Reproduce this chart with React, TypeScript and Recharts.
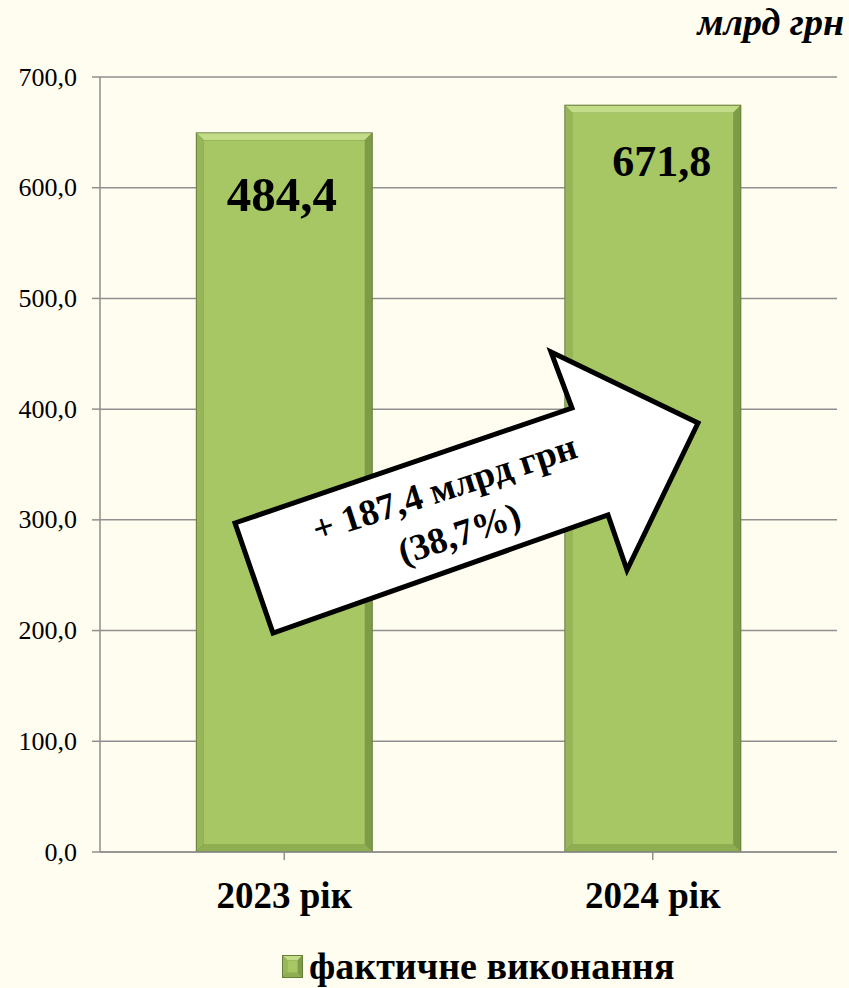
import React from 'react';
import { BarChart, Bar, XAxis, YAxis, CartesianGrid, Legend, LabelList } from 'recharts';

const categories = ['2023 рік', '2024 рік'];
const barValues = [650, 675];
const valueLabels = ['484,4', '671,8'];
const yTicks = [0, 100, 200, 300, 400, 500, 600, 700];
const seriesName = 'фактичне виконання';
const unitLabel = 'млрд грн';
const arrowLines = ['+ 187,4 млрд грн', '(38,7%)'];

const data = categories.map((c, i) => ({ category: c, value: barValues[i], label: valueLabels[i] }));

const BG = '#FFFCF0';
const FONT = 'Liberation Serif';
const labelSizes = [49, 44];
const labelDx = [-2.5, 9];
const labelDy = [79, 71];

const fmt = (v: number) => v.toFixed(1).replace('.', ',');

function BevelRect(props: any) {
  const { x, y, width, height } = props;
  if (!width || !height) return null;
  const b = Math.min(8, width / 4, height / 4);
  return (
    <g>
      <rect x={x} y={y} width={width} height={height} fill="#667F3A" />
      <polygon points={`${x + 1},${y + 1} ${x + width - 1},${y + 1} ${x + width - b},${y + b} ${x + b},${y + b}`} fill="#C2DC88" />
      <polygon points={`${x + 1},${y + 1} ${x + b},${y + b} ${x + b},${y + height - b} ${x + 1},${y + height - 1}`} fill="#97B65A" />
      <polygon points={`${x + width - 1},${y + 1} ${x + width - 1},${y + height - 1} ${x + width - b},${y + height - b} ${x + width - b},${y + b}`} fill="#7E9B47" />
      <polygon points={`${x + 1},${y + height - 1} ${x + b},${y + height - b} ${x + width - b},${y + height - b} ${x + width - 1},${y + height - 1}`} fill="#8FAE52" />
      <rect x={x + b} y={y + b} width={width - 2 * b} height={height - 2 * b} fill="#A6C764" />
    </g>
  );
}

function ValueLabel(props: any) {
  const { x, y, width, index } = props;
  return (
    <text
      x={x + width / 2 + labelDx[index]}
      y={y + labelDy[index]}
      textAnchor="middle"
      fontFamily={FONT}
      fontWeight="bold"
      fontSize={labelSizes[index]}
      fill="#000"
    >
      {valueLabels[index]}
    </text>
  );
}

function XTick(props: any) {
  const { x, y, payload } = props;
  return (
    <text x={x} y={y} dy={46} textAnchor="middle" fontFamily={FONT} fontWeight="bold" fontSize={37} fill="#000">
      {payload.value}
    </text>
  );
}

function YTick(props: any) {
  const { x, y, payload } = props;
  return (
    <text x={x} y={y} dy={8.5} textAnchor="end" fontFamily={FONT} fontSize={26} fill="#000">
      {fmt(payload.value)}
    </text>
  );
}

function LegendContent() {
  return (
    <svg width={849} height={56} style={{ display: 'block' }}>
      <BevelRect x={282} y={23} width={21} height={23} />
      <text x={309} y={47} fontFamily={FONT} fontWeight="bold" fontSize={38} fill="#000">
        {seriesName}
      </text>
    </svg>
  );
}

export default function App() {
  return (
    <div style={{ position: 'absolute', left: 0, top: 0, width: 849, height: 988, background: BG, overflow: 'hidden' }}>
      <BarChart
        width={849}
        height={988}
        data={data}
        margin={{ top: 77, right: 12, left: 0, bottom: 0 }}
        barCategoryGap="26%"
      >
        <CartesianGrid vertical={false} stroke="#8F8F8F" strokeWidth={1.5} />
        <XAxis
          dataKey="category"
          height={80}
          tick={<XTick />}
          tickSize={8}
          axisLine={{ stroke: '#8F8F8F', strokeWidth: 1.5 }}
          tickLine={{ stroke: '#8F8F8F', strokeWidth: 1.5 }}
          interval={0}
        />
        <YAxis
          width={100}
          domain={[0, 700]}
          ticks={yTicks}
          tickSize={8}
          tickMargin={15}
          axisLine={{ stroke: '#8F8F8F', strokeWidth: 1.5 }}
          tickLine={{ stroke: '#8F8F8F', strokeWidth: 1.5 }}
          tick={<YTick />}
        />
        <Legend verticalAlign="bottom" height={56} content={<LegendContent />} />
        <Bar dataKey="value" name={seriesName} shape={<BevelRect />} isAnimationActive={false}>
          <LabelList dataKey="label" content={<ValueLabel />} />
        </Bar>
      </BarChart>
      <svg width={849} height={988} style={{ position: 'absolute', left: 0, top: 0, pointerEvents: 'none' }}>
        <text x={844} y={35} textAnchor="end" fontFamily={FONT} fontWeight="bold" fontStyle="italic" fontSize={38} fill="#000">
          {unitLabel}
        </text>
        <polygon
          points="235,523 572,408 551,352 698,423 627,570 608,515 273,633"
          fill="#FFFFFF"
          stroke="#000"
          strokeWidth={5}
          strokeLinejoin="miter"
        />
        <g transform="translate(452,511) rotate(-18)">
          <text x={0} y={-12} textAnchor="middle" fontFamily={FONT} fontWeight="bold" fontSize={37} fill="#000">
            {arrowLines[0]}
          </text>
          <text x={0} y={36} textAnchor="middle" fontFamily={FONT} fontWeight="bold" fontSize={37} fill="#000">
            {arrowLines[1]}
          </text>
        </g>
      </svg>
    </div>
  );
}
